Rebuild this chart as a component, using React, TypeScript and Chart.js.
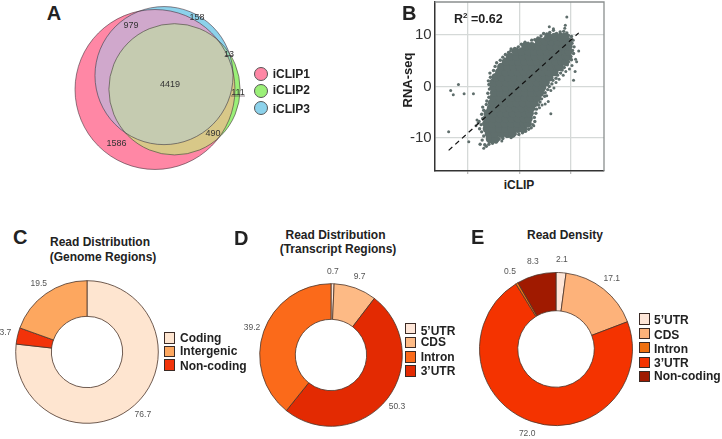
import React, { useEffect, useRef } from "react";
import { Chart, registerables } from "chart.js";

Chart.register(...registerables);

const FONT = '"Liberation Sans", Arial, sans-serif';

// Panel A
const vennSets = ["iCLIP1", "iCLIP2", "iCLIP3"];
const vennRegionValues = ["979", "158", "13", "4419", "111", "490", "1586"];
const vennSetSizes = [7474, 5033, 5569];
const vennCentres = [
  { x: 155, y: 89.5 },
  { x: 174.5, y: 89.3 },
  { x: 164, y: 75.6 },
];
const vennLabelSpots = [
  { x: 131, y: 26 },
  { x: 197, y: 17.5 },
  { x: 229, y: 55 },
  { x: 170, y: 84.5 },
  { x: 238, y: 92.7 },
  { x: 213, y: 134 },
  { x: 116.5, y: 144 },
];
const vennLeaders = [
  { x1: 225, x2: 233, y: 55.5 },
  { x1: 231, x2: 245, y: 96 },
];
const vennColours = ["#FF87A5", "#9BF078", "#8CD2EB"];
const vennOverlaps = [
  { sets: [0, 2], colour: "#D0A8CC" },
  { sets: [0, 1], colour: "#D8C888" },
  { sets: [1, 2], colour: "#96DCB4" },
  { sets: [0, 1, 2], colour: "#C5CBB0" },
];

// Panel B: iCLIP (x) vs RNA-seq (y)
const scatterBody: [number, number][] = [
  [-5.7,-10.2],[-4.6,-10.2],
  [-5.9,-9.2],[-4.7,-9.2],[-3.4,-9.2],[-2.2,-9.2],[-1.4,-9.2],
  [-6.3,-8.2],[-5.1,-8.2],[-3.9,-8.2],[-2.7,-8.2],[-1.5,-8.2],[-0.3,-8.2],[0.7,-8.2],
  [-6.4,-7.2],[-5.2,-7.2],[-4,-7.2],[-2.8,-7.2],[-1.6,-7.2],[-0.4,-7.2],[0.8,-7.2],[1.6,-7.2],
  [-6.3,-6.2],[-5.1,-6.2],[-3.9,-6.2],[-2.7,-6.2],[-1.5,-6.2],[-0.3,-6.2],[0.9,-6.2],[1.8,-6.2],
  [-6.1,-5.2],[-4.9,-5.2],[-3.7,-5.2],[-2.5,-5.2],[-1.3,-5.2],[-0.1,-5.2],[1.1,-5.2],[2,-5.2],
  [-5.5,-4.2],[-4.3,-4.2],[-3.1,-4.2],[-1.9,-4.2],[-0.7,-4.2],[0.5,-4.2],[1.7,-4.2],[2.3,-4.2],
  [-5.3,-3.2],[-4.1,-3.2],[-2.9,-3.2],[-1.7,-3.2],[-0.5,-3.2],[0.7,-3.2],[1.9,-3.2],[2.9,-3.2],
  [-5,-2.2],[-3.8,-2.2],[-2.6,-2.2],[-1.4,-2.2],[-0.2,-2.2],[1,-2.2],[2.2,-2.2],[3.4,-2.2],
  [-4.9,-1.2],[-3.7,-1.2],[-2.5,-1.2],[-1.3,-1.2],[-0.1,-1.2],[1.1,-1.2],[2.3,-1.2],[3.5,-1.2],[4,-1.2],
  [-5,-0.2],[-3.8,-0.2],[-2.6,-0.2],[-1.4,-0.2],[-0.2,-0.2],[1,-0.2],[2.2,-0.2],[3.4,-0.2],[4.4,-0.2],
  [-5,0.8],[-3.8,0.8],[-2.6,0.8],[-1.4,0.8],[-0.2,0.8],[1,0.8],[2.2,0.8],[3.4,0.8],[4.6,0.8],[5.1,0.8],
  [-4.6,1.8],[-3.4,1.8],[-2.2,1.8],[-1,1.8],[0.2,1.8],[1.4,1.8],[2.6,1.8],[3.8,1.8],[5,1.8],[5.8,1.8],
  [-3.9,2.8],[-2.7,2.8],[-1.5,2.8],[-0.3,2.8],[0.9,2.8],[2.1,2.8],[3.3,2.8],[4.5,2.8],[5.7,2.8],[6.8,2.8],
  [-3.5,3.8],[-2.3,3.8],[-1.1,3.8],[0.1,3.8],[1.3,3.8],[2.5,3.8],[3.7,3.8],[4.9,3.8],[6.1,3.8],[7.3,3.8],[7.7,3.8],
  [-2.6,4.8],[-1.4,4.8],[-0.2,4.8],[1,4.8],[2.2,4.8],[3.4,4.8],[4.6,4.8],[5.8,4.8],[7,4.8],[8.2,4.8],[8.9,4.8],
  [-1.8,5.8],[-0.6,5.8],[0.6,5.8],[1.8,5.8],[3,5.8],[4.2,5.8],[5.4,5.8],[6.6,5.8],[7.8,5.8],[9,5.8],[9.4,5.8],
  [-0.7,6.8],[0.5,6.8],[1.7,6.8],[2.9,6.8],[4.1,6.8],[5.3,6.8],[6.5,6.8],[7.7,6.8],[8.9,6.8],[9.5,6.8],
  [1.2,7.8],[2.4,7.8],[3.6,7.8],[4.8,7.8],[6,7.8],[7.2,7.8],[8.4,7.8],[9.5,7.8],
  [3.8,8.8],[5,8.8],[6.2,8.8],[7.4,8.8],[8.6,8.8],[9.4,8.8],
  [5.6,9.6],[6.8,9.6],[8,9.6],[8.8,9.6],
];
const scatterRim: [number, number][] = [
  [-7.6,-11.2],[-7.2,-10.4],[-6.7,-11.3],[-6.4,-11.6],[-6.9,-9.6],[-7.3,-8.8],[-7.7,-8.2],[-7.4,-7.4],
  [-7.8,-6.8],[-7.1,-6.2],[-7.3,-5.4],[-6.9,-4.6],[-7.1,-4],[-6.4,-3.5],[-6.3,-2.8],[-5.9,-2.1],
  [-6.1,-1.3],[-5.8,-0.5],[-5.9,0.4],[-6,1.1],[-5.6,1.8],[-5.7,2.6],[-5,3.1],[-4.7,3.9],[-4.4,4.6],
  [-3.7,5.1],[-3.2,5.7],[-2.7,6.2],[-2.1,6.6],[-1.6,7.3],[-0.9,7.4],[-0.2,7.7],[0.4,8.2],[1.1,8.6],
  [1.7,8.4],[2.4,9],[3,9.1],[3.6,9.4],[4.2,9.8],[4.7,10.3],[5.3,10.2],[5.9,10.5],[6.6,10.9],[7.2,10.3],
  [7.9,10.6],[8.6,10.7],[9.2,10.4],[9.5,9.9],[10.1,9.7],[10.4,9],[10.2,8.4],[10.6,7.7],[10.3,7],
  [10.5,6.4],[10,5.8],[10.1,5.2],[9.5,4.8],[9.3,4.2],[8.7,3.7],[8.3,3.2],[8,2.6],[7.4,2.2],[7.1,1.6],
  [6.5,1.2],[6.3,0.5],[5.8,0],[5.5,-0.6],[5,-1.2],[4.9,-1.9],[4.3,-2.4],[4,-3],[3.7,-3.6],[3.3,-4.4],
  [3.2,-5.2],[2.9,-6],[3,-6.8],[2.6,-7.4],[2.3,-8],[1.8,-8.3],[1.2,-8.7],[0.6,-9],[-0.1,-9.3],
  [-0.8,-9.2],[-1.6,-9.9],[-2.4,-9.7],[-3.2,-10.1],[-3.9,-10.2],[-4.5,-10.8],[-5.2,-11],[-5.9,-11.2],
];
const scatterStray: [number, number][] = [
  [-13.3,-0.8],[-12.8,-1.6],[-11.8,0.4],[-10.7,-1.4],[-8.9,-1.4],[-13.7,-8.8],[-9.8,-10.7],[-6.9,-12],
  [-8,-7.1],[-8.4,-7.6],[-8.2,-6.5],[-1.7,6.9],[-3.4,-10.6],[2.8,-7.6],[6.1,-5.3],[3.9,-4.1],[4.4,-3.6],
  [5,-3.4],[5.6,-2.9],[5.3,-1.8],[6.1,-0.8],[6.7,-0.3],[7.1,0.8],[7.7,1.4],[8.5,2.2],[9,2.9],[9.7,3.4],
  [10.8,2.9],[10.2,4.1],[11.1,4.8],[10.9,5.3],[11.5,6.9],[10.5,1.2],[5.8,11.6],[6.6,11.2],[8.9,11.9],
  [8.8,11.3],[9.2,13.5],
];
const fitLine: [number, number][] = [[-13.7,-12.4],[11.5,10.4]];
const axisLimit = 16.4;
const axisStep = 10;

// Panels C, D, E (in the order the slices run clockwise from twelve o'clock)
const cCategories = ["Coding", "Non-coding", "Intergenic"];
const cValues = [76.7, 3.7, 19.5];
const cColours = ["#FEE5D0", "#F2330A", "#FDA75F"];
const cLegend = ["Coding", "Intergenic", "Non-coding"];

const dCategories = ["5’UTR", "CDS", "3’UTR", "Intron"];
const dValues = [0.7, 9.7, 50.3, 39.2];
const dColours = ["#FEE6D8", "#FDBA85", "#E32A02", "#FB6A1A"];
const dLegend = ["5’UTR", "CDS", "Intron", "3’UTR"];

const eCategories = ["5’UTR", "CDS", "3’UTR", "Intron", "Non-coding"];
const eValues = [2.1, 17.1, 72.0, 0.5, 8.3];
const eColours = ["#FEE6D8", "#FDB27A", "#F43300", "#F07010", "#A01A00"];
const eLegend = ["5’UTR", "CDS", "Intron", "3’UTR", "Non-coding"];

const toPoints = (list: [number, number][]) => list.map(([x, y]) => ({ x, y }));

type TextProps = {
  x: number; y: number; size: number; children: React.ReactNode;
  bold?: boolean; colour?: string; anchor?: "start" | "middle"; rotate?: number;
};
function Label({ x, y, size, children, bold = true, colour = "#222", anchor = "middle", rotate = 0 }: TextProps) {
  const tx = anchor === "middle" ? "-50%" : "0";
  return (
    <span
      style={{
        position: "absolute", left: x, top: y, fontFamily: FONT, fontSize: size,
        fontWeight: bold ? 700 : 400, color: colour, whiteSpace: "nowrap", lineHeight: 1,
        transform: `translate(${tx},-50%) rotate(${rotate}deg)`,
      }}
    >
      {children}
    </span>
  );
}

function useChart(build: (canvas: HTMLCanvasElement) => Chart) {
  const ref = useRef<HTMLCanvasElement>(null);
  useEffect(() => {
    const chart = build(ref.current!);
    return () => chart.destroy();
  }, []);
  return ref;
}

const absolute = (left: number, top: number): React.CSSProperties => ({ position: "absolute", left, top });

function Venn() {
  const left = 60, top = 0, width = 200, height = 180;
  const ref = useChart((canvas) =>
    new Chart(canvas, {
      type: "bubble",
      data: {
        labels: vennSets,
        datasets: [{
          label: "Sets",
          data: vennCentres.map((c, i) => ({ x: c.x, y: c.y, r: Math.sqrt(vennSetSizes[i]) * 0.925 })),
          backgroundColor: vennColours,
          borderWidth: 0,
          clip: false,
        }],
      },
      options: {
        responsive: false, animation: false,
        layout: { padding: 0, autoPadding: false },
        scales: {
          x: { display: false, min: left, max: left + width },
          y: { display: false, min: top, max: top + height, reverse: true },
        },
        plugins: { legend: { display: false }, tooltip: { enabled: false } },
      },
      plugins: [{
        id: "vennOverlaps",
        afterDatasetsDraw(chart: any) {
          const { ctx, scales } = chart;
          const arcs = chart.getDatasetMeta(0).data.map((el: any, i: number) => ({
            x: el.x, y: el.y, r: chart.data.datasets[0].data[i].r,
          }));
          vennOverlaps.forEach(({ sets, colour }) => {
            ctx.save();
            sets.forEach((i) => {
              ctx.beginPath();
              ctx.arc(arcs[i].x, arcs[i].y, arcs[i].r, 0, Math.PI * 2);
              ctx.clip();
            });
            ctx.fillStyle = colour;
            ctx.fillRect(0, 0, chart.width, chart.height);
            ctx.restore();
          });
          ctx.save();
          ctx.strokeStyle = "rgba(70,50,60,0.75)";
          ctx.lineWidth = 0.8;
          arcs.forEach((a: any) => {
            ctx.beginPath();
            ctx.arc(a.x, a.y, a.r, 0, Math.PI * 2);
            ctx.stroke();
          });
          vennLeaders.forEach((l) => {
            const y = scales.y.getPixelForValue(l.y);
            ctx.beginPath();
            ctx.moveTo(scales.x.getPixelForValue(l.x1), y);
            ctx.lineTo(scales.x.getPixelForValue(l.x2), y);
            ctx.stroke();
          });
          ctx.fillStyle = "#333";
          ctx.font = `9px ${FONT}`;
          ctx.textAlign = "center";
          ctx.textBaseline = "middle";
          vennRegionValues.forEach((t, i) => {
            ctx.fillText(t, scales.x.getPixelForValue(vennLabelSpots[i].x), scales.y.getPixelForValue(vennLabelSpots[i].y));
          });
          ctx.restore();
        },
      }],
    } as any)
  );
  return <canvas ref={ref} width={width} height={height} style={absolute(left, top)} />;
}

function Scatter() {
  const left = 385, top = 0, width = 225, height = 176;
  const ink = "#5F6E6C";
  const ref = useChart((canvas) =>
    new Chart(canvas, {
      type: "scatter",
      data: {
        datasets: [
          { label: "dense", data: toPoints(scatterBody), pointRadius: 4.2, pointBorderWidth: 0, backgroundColor: ink, order: 3 },
          { label: "rim", data: toPoints(scatterRim), pointRadius: 1.7, pointBorderWidth: 0, backgroundColor: ink, order: 2 },
          { label: "stray", data: toPoints(scatterStray), pointRadius: 1.5, pointBorderWidth: 0, backgroundColor: ink, order: 2 },
          {
            label: "fit", data: toPoints(fitLine), showLine: true, pointRadius: 0,
            borderColor: "#111", borderWidth: 1.2, borderDash: [5, 4], order: 1,
          },
        ],
      },
      options: {
        responsive: false, animation: false,
        layout: { padding: { left: 0, right: 6, top: 2, bottom: 0 }, autoPadding: false },
        scales: {
          x: {
            min: -axisLimit, max: axisLimit,
            afterFit: (s: any) => { s.height = 5; s.paddingLeft = 0; s.paddingRight = 0; },
            grid: { color: "#D5D9D8", lineWidth: 1.3, tickLength: 3, tickColor: "#BBB" },
            border: { color: "#333", width: 1.5 },
            ticks: { stepSize: axisStep, includeBounds: false, callback: () => "", padding: 0 },
          },
          y: {
            min: -axisLimit, max: axisLimit,
            afterFit: (s: any) => { s.width = 49.7; s.paddingTop = 0; s.paddingBottom = 0; },
            grid: { color: "#D5D9D8", lineWidth: 1.3, drawTicks: false },
            border: { color: "#333", width: 1.5 },
            ticks: {
              stepSize: axisStep, includeBounds: false, padding: 3, color: "#333",
              font: { family: FONT, size: 15 },
              callback: (v: any) => String(v),
            },
          },
        },
        plugins: { legend: { display: false }, tooltip: { enabled: false } },
      },
      plugins: [{
        id: "farEdges",
        afterDatasetsDraw(chart: any) {
          const { ctx, chartArea: a } = chart;
          ctx.save();
          ctx.strokeStyle = "#8A8F8E";
          ctx.lineWidth = 1.3;
          ctx.beginPath();
          ctx.moveTo(a.left, a.top);
          ctx.lineTo(a.right, a.top);
          ctx.lineTo(a.right, a.bottom);
          ctx.stroke();
          ctx.restore();
        },
      }],
    } as any)
  );
  return <canvas ref={ref} width={width} height={height} style={absolute(left, top)} />;
}

function Ring({ cx, cy, radius, categories, values, colours }: {
  cx: number; cy: number; radius: number; categories: string[]; values: number[]; colours: string[];
}) {
  const half = 100;
  const edge = 0.8;
  const ref = useChart((canvas) =>
    new Chart(canvas, {
      type: "doughnut",
      data: {
        labels: categories,
        datasets: [{ data: values, backgroundColor: colours, borderColor: "#4A3328", borderWidth: edge }],
      },
      options: {
        responsive: false, animation: false, cutout: "50%",
        layout: { padding: half - radius - edge / 2 },
        plugins: { legend: { display: false }, tooltip: { enabled: false } },
      },
      plugins: [{
        id: "sliceValues",
        afterDatasetsDraw(chart: any) {
          const { ctx } = chart;
          ctx.save();
          ctx.fillStyle = "#555";
          ctx.font = `8.5px ${FONT}`;
          ctx.textAlign = "center";
          ctx.textBaseline = "middle";
          chart.getDatasetMeta(0).data.forEach((arc: any, i: number) => {
            const mid = (arc.startAngle + arc.endAngle) / 2;
            const r = arc.outerRadius * 1.175;
            ctx.fillText(values[i].toFixed(1), arc.x + Math.cos(mid) * r, arc.y + Math.sin(mid) * r);
          });
          ctx.restore();
        },
      }],
    } as any)
  );
  return <canvas ref={ref} width={half * 2} height={half * 2} style={absolute(cx - half, cy - half)} />;
}

function Legend({ names, colours, swatchX, textX, rows }: {
  names: string[]; colours: string[]; swatchX: number; textX: number;
  rows: { top: number; h: number; textY: number }[];
}) {
  return (
    <>
      {names.map((name, i) => (
        <React.Fragment key={name}>
          <div
            style={{
              position: "absolute", left: swatchX, top: rows[i].top, width: 11, height: rows[i].h,
              boxSizing: "border-box", border: "1.5px solid #3A2A25", background: colours[i],
            }}
          />
          <Label x={textX} y={rows[i].textY} size={12} anchor="start">{name}</Label>
        </React.Fragment>
      ))}
    </>
  );
}

const colourOf = (names: string[], colours: string[], name: string) => colours[names.indexOf(name)];

export default function App() {
  return (
    <div style={{ position: "absolute", left: 0, top: 0, width: 722, height: 439, overflow: "hidden", background: "#fff" }}>
      <Label x={54} y={13} size={20}>A</Label>
      <Venn />
      {vennSets.map((name, i) => (
        <React.Fragment key={name}>
          <div
            style={{
              position: "absolute", left: 253.7, top: [67, 84, 101.3][i], width: 14, height: 14,
              boxSizing: "border-box", borderRadius: "50%", border: "1px solid #555", background: vennColours[i],
            }}
          />
          <Label x={272.7} y={[74, 90, 109][i]} size={12} anchor="start">{name}</Label>
        </React.Fragment>
      ))}

      <Scatter />
      <Label x={402} y={13} size={20} anchor="start">B</Label>
      <Label x={454} y={19} size={12.5} anchor="start">
        R<sup style={{ fontSize: 8, lineHeight: 0 }}>2</sup> =0.62
      </Label>
      <Label x={519} y={185} size={12}>iCLIP</Label>
      <Label x={406.7} y={80} size={13} rotate={-90}>RNA-seq</Label>

      <Label x={13} y={237} size={20} anchor="start">C</Label>
      <Label x={100} y={241.7} size={12}>Read Distribution</Label>
      <Label x={103} y={256.7} size={12}>(Genome Regions)</Label>
      <Ring cx={87.3} cy={351.7} radius={71.3} categories={cCategories} values={cValues} colours={cColours} />
      <Legend
        names={cLegend}
        colours={cLegend.map((n) => colourOf(cCategories, cColours, n))}
        swatchX={164} textX={180}
        rows={[{ top: 332, h: 12, textY: 338.3 }, { top: 346, h: 11, textY: 351.3 }, { top: 359, h: 12, textY: 366 }]}
      />

      <Label x={234} y={238} size={20} anchor="start">D</Label>
      <Label x={335.5} y={234.7} size={12}>Read Distribution</Label>
      <Label x={338} y={249.3} size={12}>(Transcript Regions)</Label>
      <Ring cx={330.7} cy={354.7} radius={71.3} categories={dCategories} values={dValues} colours={dColours} />
      <Legend
        names={dLegend}
        colours={dLegend.map((n) => colourOf(dCategories, dColours, n))}
        swatchX={405} textX={420.7}
        rows={[
          { top: 323.3, h: 11, textY: 330.7 }, { top: 337.3, h: 11, textY: 342.3 },
          { top: 351, h: 12, textY: 357 }, { top: 365, h: 12, textY: 371.3 },
        ]}
      />

      <Label x={471} y={237} size={20} anchor="start">E</Label>
      <Label x={565} y={235} size={12}>Read Density</Label>
      <Ring cx={556.3} cy={349} radius={76.5} categories={eCategories} values={eValues} colours={eColours} />
      <Legend
        names={eLegend}
        colours={eLegend.map((n) => colourOf(eCategories, eColours, n))}
        swatchX={639} textX={654}
        rows={[
          { top: 312.7, h: 12, textY: 319.7 }, { top: 328, h: 11, textY: 335 },
          { top: 342, h: 11, textY: 348.7 }, { top: 356.7, h: 11, textY: 362.7 },
          { top: 371, h: 11, textY: 375.7 },
        ]}
      />
    </div>
  );
}
